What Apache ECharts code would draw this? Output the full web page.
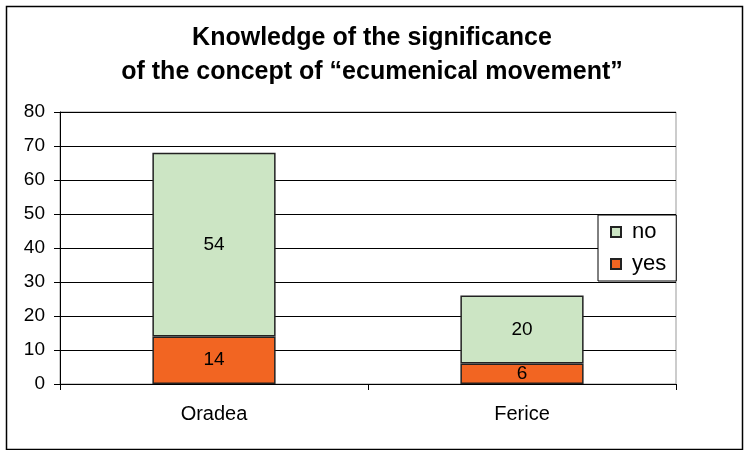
<!DOCTYPE html>
<html>
<head>
<meta charset="utf-8">
<script src="https://cdn.jsdelivr.net/npm/echarts@6/dist/echarts.min.js"></script>
<style>
  html, body { margin: 0; padding: 0; background: #fff; }
  #chart { width: 744px; height: 450px; }
</style>
</head>
<body>
<div id="chart"></div>
<script>
// Chart data
const places = ['Oradea', 'Ferice'];
const yesValues = [14, 6];
const noValues = [54, 20];
const legendNames = ['no', 'yes'];

const chart = echarts.init(document.getElementById('chart'));

const fontFam = 'Liberation Sans, Arial, sans-serif';

const labelStyle = {
    show: true,
    position: 'inside',
    color: '#000',
    fontSize: 19,
    fontFamily: fontFam
};

const option = {
    animation: false,
    backgroundColor: '#fff',
    title: {
        text: 'Knowledge of the significance\nof the concept of \u201cecumenical movement\u201d',
        left: 'center',
        top: 16,
        textStyle: {
            fontSize: 25,
            fontWeight: 'bold',
            lineHeight: 34,
            color: '#000',
            fontFamily: fontFam
        }
    },
    graphic: [{
        type: 'rect',
        left: 4,
        top: 4,
        shape: { width: 736, height: 443 },
        style: { fill: 'none', stroke: '#000', lineWidth: 1.5 },
        z: -1
    }],
    legend: {
        data: legendNames,
        orient: 'vertical',
        left: 598,
        top: 215,
        padding: [6, 10, 6, 12],
        itemGap: 10,
        itemWidth: 10,
        itemHeight: 10,
        icon: 'rect',
        backgroundColor: '#fff',
        borderColor: '#000',
        borderWidth: 1,
        textStyle: {
            fontSize: 22,
            color: '#000',
            padding: [0, 0, 0, 6],
            fontFamily: fontFam
        },
        z: 10
    },
    grid: {
        left: 60,
        right: 68,
        top: 112,
        bottom: 66,
        show: true,
        borderColor: '#999',
        borderWidth: 1
    },
    xAxis: {
        type: 'category',
        data: places,
        axisLine: { lineStyle: { color: '#000', width: 1 } },
        axisTick: { show: true, length: 6, lineStyle: { color: '#000' } },
        axisLabel: {
            fontSize: 20,
            color: '#000',
            margin: 20,
            fontFamily: fontFam
        }
    },
    yAxis: {
        type: 'value',
        min: 0,
        max: 80,
        interval: 10,
        axisLine: { show: true, lineStyle: { color: '#000', width: 1 } },
        axisTick: { show: true, length: 6, lineStyle: { color: '#000' } },
        axisLabel: {
            fontSize: 19,
            color: '#000',
            margin: 15,
            fontFamily: fontFam
        },
        splitLine: { lineStyle: { color: '#000', width: 1 } }
    },
    series: [
        {
            name: 'yes',
            type: 'bar',
            stack: 'total',
            barWidth: '40%',
            data: yesValues,
            itemStyle: { color: '#F26522', borderColor: '#222', borderWidth: 1.5 },
            label: labelStyle
        },
        {
            name: 'no',
            type: 'bar',
            stack: 'total',
            barWidth: '40%',
            data: noValues,
            itemStyle: { color: '#CCE5C4', borderColor: '#222', borderWidth: 1.5 },
            label: labelStyle
        }
    ]
};

chart.setOption(option);
</script>
</body>
</html>
